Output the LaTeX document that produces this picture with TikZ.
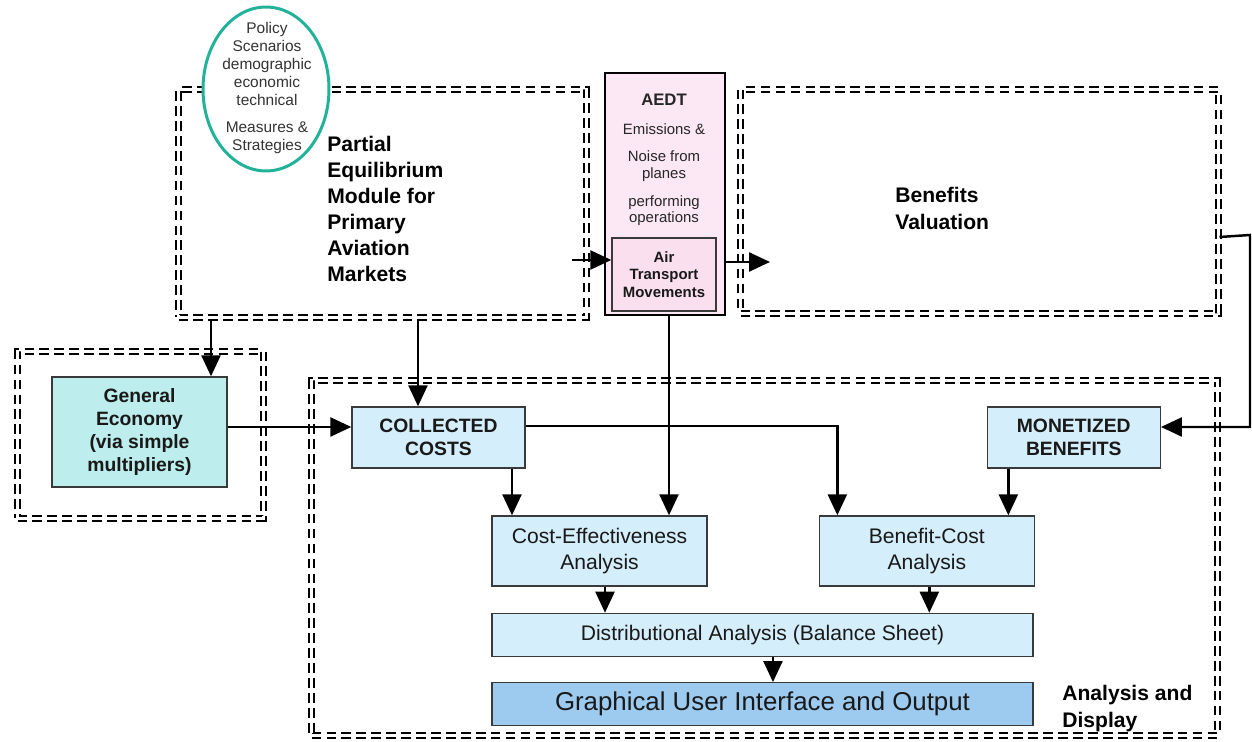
\documentclass[tikz,border=0pt]{standalone}
\usepackage{fontspec}
\setmainfont{Liberation Sans}
\usetikzlibrary{arrows.meta,calc,positioning,shapes.geometric}
\definecolor{scenteal}{HTML}{22B299}
\definecolor{aedtpink}{HTML}{FCE8F4}
\definecolor{atmpink}{HTML}{FAE0EF}
\definecolor{econteal}{HTML}{BDEDEC}
\definecolor{boxblue}{HTML}{D5EEFB}
\definecolor{guiblue}{HTML}{9DCBF0}
\definecolor{boxline}{HTML}{3A3A3A}
\tikzset{line/.style={draw, line width=1.4pt, -{Triangle[length=0.42cm, width=0.38cm]}}}

\begin{document}
\begin{tikzpicture}[x=0.02cm, y=-0.02cm]
\tikzstyle{group} = [rectangle, draw, double, double distance=1.3pt, line width=1.2pt, dash pattern=on 5.5pt off 3pt, inner sep=0pt]
\tikzstyle{block} = [rectangle, draw=boxline, line width=0.8pt, fill=boxblue, inner sep=0pt, align=center, text=black!90]
\tikzstyle{Text} = [inner sep=0pt, align=left, anchor=west]

\useasboundingbox (0,0) rectangle (1252,742);

% dashed groups
\node [group, minimum width=8.16cm, minimum height=4.56cm](pe) at (382.5,203.5){};
\node [group, minimum width=9.56cm, minimum height=4.48cm](bv) at (979.5,201.5){};
\node [group, minimum width=4.92cm, minimum height=3.34cm](ge) at (140.5,435){};
\node [group, minimum width=18.12cm, minimum height=7.1cm](ad) at (764.5,558){};

\node [Text, font=\bfseries\fontsize{12}{14.7}\selectfont](petext) at (327,209){Partial\\Equilibrium\\Module for\\Primary\\Aviation\\Markets};
\node [Text, font=\bfseries\fontsize{12}{15.3}\selectfont](bvtext) at (895,208.5){Benefits\\Valuation};
\node [Text, font=\bfseries\fontsize{12}{15.3}\selectfont](adtext) at (1062,708.5){Analysis and\\Display};

% scenarios
\node [ellipse, draw=scenteal, line width=1.7pt, fill=white, minimum width=2.52cm, minimum height=3.28cm, inner sep=0pt](scen) at (266,89){};
\node [align=center, inner sep=0pt, text=black!80, font=\fontsize{8.8}{10.2}\selectfont](scentext) at (267,88){Policy\\Scenarios\\demographic\\economic\\technical\\[5.1pt]Measures \&\\Strategies};

% AEDT
\node [rectangle, draw, line width=1.5pt, fill=aedtpink, minimum width=2.4cm, minimum height=4.84cm](aedt) at (665,194){};
\node [align=center, inner sep=0pt, text=black!85, font=\fontsize{8.5}{9.6}\selectfont](aedttext) at (664,160){\textbf{\fontsize{9.5}{9.6}\selectfont AEDT}\\[6.8pt]Emissions \&\\[5.7pt]Noise from\\planes\\[6.3pt]performing\\operations};
\node [block, fill=atmpink, minimum width=2.08cm, minimum height=1.46cm, font=\bfseries\fontsize{8.5}{10}\selectfont](atm) at (664,274.5){Air\\Transport\\Movements};

% boxes
\node [block, fill=econteal, minimum width=3.5cm, minimum height=2.2cm, font=\bfseries\fontsize{11}{13}\selectfont](geb) at (139.5,432){General\\Economy\\(via simple\\multipliers)};
\node [block, minimum width=3.46cm, minimum height=1.22cm, font=\bfseries\fontsize{11}{13}\selectfont](cc) at (438.5,437.5){COLLECTED\\COSTS};
\node [block, right=9.22cm of cc, minimum width=3.46cm, minimum height=1.22cm, font=\bfseries\fontsize{11}{13}\selectfont](mb){MONETIZED\\BENEFITS};
\node [block, minimum width=4.3cm, minimum height=1.4cm, font=\fontsize{12}{14.7}\selectfont](cea) at (599.5,551){Cost-Effectiveness\\Analysis};
\node [block, right=2.22cm of cea, minimum width=4.3cm, minimum height=1.4cm, font=\fontsize{12}{14.7}\selectfont](bca){Benefit-Cost\\Analysis};
\node [block, below=0.52cm of cea.south west, anchor=north west, minimum width=10.82cm, minimum height=0.86cm, font=\fontsize{12}{14.7}\selectfont](da){Distributional Analysis (Balance Sheet)};
\node [block, below=0.5cm of da, fill=guiblue, minimum width=10.82cm, minimum height=0.86cm, font=\fontsize{14.7}{16}\selectfont](gui){Graphical User Interface and Output};

% connectors
\coordinate (peout) at (572,260);
\path [line] (peout) -- (atm.west|-peout);
\coordinate (bvin) at (770,262);
\path [line] (aedt.east|-bvin) -- (bvin);
\coordinate (bvout) at ($(bv.east)+(0,35.5)$);
\coordinate (edge) at (1250,235);
\coordinate (mbin) at ($(mb.east)+(0,-10.5)$);
\path [line] (bvout) -- (edge) -- (edge|-mbin) -- (mbin);
\coordinate (gein) at ($(geb.north)+(71.5,0)$);
\path [line] (pe.south-|gein) -- (gein);
\coordinate (ccin) at ($(cc.north)+(-20.5,0)$);
\path [line] (pe.south-|ccin) -- (ccin);
\coordinate (ccleft) at ($(cc.west)+(0,-10.5)$);
\path [line] (geb.east|-ccleft) -- (ccleft);
\coordinate (ceain) at ($(cea.north)+(-87.5,0)$);
\path [line] (cc.south-|ceain) -- (ceain);
\coordinate (aedtin) at ($(cea.north)+(69.5,0)$);
\path [line] (aedt.south-|aedtin) -- (aedtin);
\coordinate (bcain) at ($(bca.north)+(-89.5,0)$);
\path [line] ($(cc.east)+(0,-11.5)$) -| (bcain);
\coordinate (mbout) at ($(bca.north)+(81.5,0)$);
\path [line] (mb.south-|mbout) -- (mbout);
\coordinate (ceaout) at ($(cea.south)+(5.5,0)$);
\path [line] (ceaout) -- (ceaout|-da.north);
\coordinate (bcaout) at ($(bca.south)+(2.5,0)$);
\path [line] (bcaout) -- (bcaout|-da.north);
\coordinate (daout) at ($(da.south)+(10.5,0)$);
\path [line] (daout) -- (daout|-gui.north);

\end{tikzpicture}
\end{document}
